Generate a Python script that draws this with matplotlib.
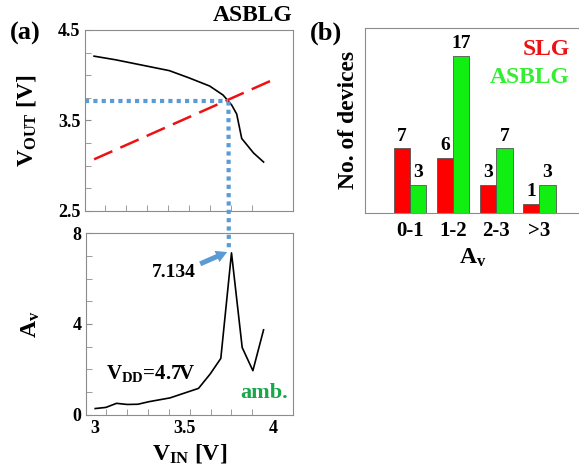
import numpy as np
import matplotlib
matplotlib.use('Agg')
import matplotlib.pyplot as plt
from matplotlib.patches import ConnectionPatch, FancyArrowPatch

plt.rcParams['font.family'] = ['Liberation Serif', 'DejaVu Serif']
plt.rcParams['font.weight'] = 'bold'
plt.rcParams['axes.labelweight'] = 'bold'
plt.rcParams['mathtext.fontset'] = 'custom'
plt.rcParams['mathtext.rm'] = 'Liberation Serif:bold'
plt.rcParams['mathtext.bf'] = 'Liberation Serif:bold'
plt.rcParams['mathtext.it'] = 'Liberation Serif:bold'

# (a) transfer curve V_OUT vs V_IN
vin_out = [3.0, 3.12, 3.27, 3.42, 3.53, 3.645, 3.72, 3.768, 3.796, 3.824, 3.89, 3.946]
vout = [4.21, 4.17, 4.11, 4.05, 3.97, 3.88, 3.78, 3.67, 3.57, 3.30, 3.14, 3.04]
# mirrored (red dashed) line
vin_line = [3.0, 4.0]
vout_line = [3.07, 3.95]
# crossing point
v_cross_in = 3.75
v_cross_out = 3.71

# (a) gain Av vs V_IN
vin_av = [3.0, 3.06, 3.12, 3.18, 3.24, 3.30, 3.42, 3.58, 3.645, 3.705, 3.765, 3.825, 3.885, 3.945]
av = [0.27, 0.32, 0.5, 0.45, 0.46, 0.57, 0.74, 1.16, 1.79, 2.48, 7.134, 2.96, 1.94, 3.74]
av_peak = 7.134

# (b) histogram of gain
cats = ['0-1', '1-2', '2-3', '>3']
slg = [7, 6, 3, 1]
asblg = [3, 17, 7, 3]

blue = '#5b9bd5'
spine_c = '#8c8c8c'
dots = (0, (1, 1))

fig = plt.figure(figsize=(5.79, 4.75), dpi=100)
ax1 = fig.add_axes([0.147, 0.556, 0.359, 0.381])
ax2 = fig.add_axes([0.149, 0.127, 0.357, 0.382])
ax3 = fig.add_axes([0.630, 0.552, 0.372, 0.390])

for ax in (ax1, ax2):
    ax.set_xlim(2.95, 4.11)
    for s in ax.spines.values():
        s.set_color(spine_c)
    ax.tick_params(direction='in', color=spine_c, length=4, labelsize=13)
    ax.set_xticks([3, 3.5, 4])
    ax.set_xticklabels(['3', '3.5', '4'])
    ax.set_xticks(np.linspace(3.06, 4.0, 9), minor=True)
    ax.tick_params(axis='x', which='major', length=0)
    ax.tick_params(axis='x', which='minor', direction='in', color=spine_c, length=4)
    ax.tick_params(axis='y', which='minor', direction='in', color=spine_c, length=4)

# top panel
ax1.plot(vin_out, vout, color='black', lw=1.2)
ax1.plot(vin_line, vout_line, color='#ee1111', lw=1.8, dashes=(8, 3.5))
ax1.plot([2.95, v_cross_in], [v_cross_out, v_cross_out], color=blue, lw=3,
         linestyle=dots)
ax1.set_ylim(2.5, 4.5)
ax1.set_yticks([2.5, 3.5, 4.5])
ax1.set_yticks(np.arange(2.5, 4.51, 0.25), minor=True)
ax1.set_xticklabels([])
ax1.set_ylabel(r'V$_{\rm OUT}$ [V]', fontsize=17, labelpad=14)
ax1.text(1.0, 1.02, 'ASBLG', transform=ax1.transAxes, ha='right', va='bottom',
         fontsize=17, fontweight='bold')

# bottom panel
ax2.plot(vin_av, av, color='black', lw=1.2)
ax2.set_ylim(0, 8)
ax2.set_yticks([0, 4, 8])
ax2.set_yticks(np.arange(0, 8.01, 1), minor=True)
ax2.set_ylabel(r'A$_{\rm v}$', fontsize=17, labelpad=22)
ax2.set_xlabel(r'V$_{\rm IN}$ [V]', fontsize=17, labelpad=4)
ax2.text(3.06, 1.83, r'V$_{\rm DD}$=4.7V', fontsize=15, va='center', ha='left')
ax2.text(4.08, 0.96, 'amb.', fontsize=16, va='center', ha='right', color='#1aa64a')
ax2.text(3.44, 6.26, f'{av_peak:.3f}', fontsize=14, ha='center', va='center')
arr = FancyArrowPatch((3.575, 6.6), (3.755, 7.22), transform=ax2.transData,
                      arrowstyle='simple,head_length=1.0,head_width=1.1,tail_width=0.45',
                      mutation_scale=8, color=blue, lw=0)
ax2.add_patch(arr)

con = ConnectionPatch(xyA=(v_cross_in, v_cross_out), coordsA=ax1.transData,
                      xyB=(v_cross_in, av_peak + 0.1), coordsB=ax2.transData,
                      color=blue, lw=3, linestyle=dots, capstyle='butt')
fig.add_artist(con)

fig.text(0.017, 0.93, '(a)', fontsize=19, fontweight='bold', va='center')
fig.text(0.535, 0.93, '(b)', fontsize=19, fontweight='bold', va='center')

# (b) bars
x = np.arange(len(cats))
w = 0.38
b1 = ax3.bar(x - w / 2, slg, w, color='#ff0000', edgecolor='#555555', lw=0.6)
b2 = ax3.bar(x + w / 2, asblg, w, color='#11ee11', edgecolor='#555555', lw=0.6)
for bars, vals in ((b1, slg), (b2, asblg)):
    for r, v in zip(bars, vals):
        ax3.text(r.get_x() + r.get_width() / 2, v + 0.4, str(v), ha='center',
                 va='bottom', fontsize=14, fontweight='bold')
ax3.set_xlim(-1.05, 3.95)
ax3.set_ylim(0, 20.1)
ax3.set_yticks([])
ax3.set_xticks(x)
ax3.set_xticklabels(cats, fontsize=15)
ax3.tick_params(axis='x', length=0, pad=6)
for s in ax3.spines.values():
    s.set_color(spine_c)
ax3.spines['right'].set_visible(False)
ax3.set_ylabel('No. of devices', fontsize=17, labelpad=4)
ax3.set_xlabel(r'A$_{\rm v}$', fontsize=17, labelpad=4)
ax3.text(0.95, 0.88, 'SLG', transform=ax3.transAxes, ha='right', va='center',
         fontsize=17, color='#ee1111')
ax3.text(0.95, 0.73, 'ASBLG', transform=ax3.transAxes, ha='right', va='center',
         fontsize=17, color='#33ee33')

fig.savefig('out.png', dpi=100)
